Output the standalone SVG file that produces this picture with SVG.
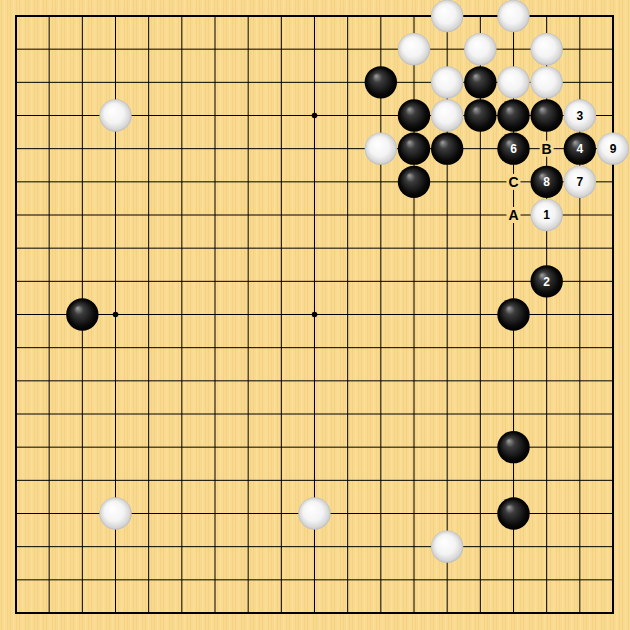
<svg xmlns="http://www.w3.org/2000/svg" width="630" height="630" viewBox="0 0 630 630">
<defs>
<pattern id="wood" x="0" y="0" width="9" height="630" patternUnits="userSpaceOnUse">
<rect width="9" height="630" fill="#F8D98E"/>
<rect x="1" width="1" height="630" fill="#F2CD7C" opacity="0.6"/>
<rect x="4" width="1.5" height="630" fill="#FBE2A2" opacity="0.6"/>
<rect x="7" width="1" height="630" fill="#F1CA77" opacity="0.4"/>
</pattern>
<radialGradient id="gb" cx="0.5" cy="0.5" r="0.5" fx="0.35" fy="0.3">
<stop offset="0" stop-color="#a0a0a0"/>
<stop offset="0.3" stop-color="#3c3c3c"/>
<stop offset="0.8" stop-color="#0a0a0a"/>
<stop offset="1" stop-color="#000"/>
</radialGradient>
<radialGradient id="gw" cx="0.5" cy="0.5" r="0.5" fx="0.38" fy="0.33">
<stop offset="0" stop-color="#ffffff"/>
<stop offset="0.6" stop-color="#f4f4f4"/>
<stop offset="0.9" stop-color="#d6d6d6"/>
<stop offset="1" stop-color="#bdbdbd"/>
</radialGradient>
<style>
.b{fill:url(#gb)}
.w{fill:url(#gw)}
.nw{font-family:"Liberation Sans",Arial,sans-serif;font-size:12px;font-weight:bold;fill:#fff;text-anchor:middle}
.nb{font-family:"Liberation Sans",Arial,sans-serif;font-size:12px;font-weight:bold;fill:#000;text-anchor:middle}
.lt{font-family:"Liberation Sans",Arial,sans-serif;font-size:14px;font-weight:bold;fill:#000;text-anchor:middle}
.lbg{fill:#F8D98E}
</style>
</defs>
<rect width="630" height="630" fill="url(#wood)"/>
<g id="grid" stroke="#000" fill="none">
<path stroke-width="1" d="M16 49.17H613M16 82.33H613M16 115.5H613M16 148.67H613M16 181.83H613M16 215H613M16 248.17H613M16 281.33H613M16 314.5H613M16 347.67H613M16 380.83H613M16 414H613M16 447.17H613M16 480.33H613M16 513.5H613M16 546.67H613M16 579.83H613
M49.17 16V613M82.33 16V613M115.5 16V613M148.67 16V613M181.83 16V613M215 16V613M248.17 16V613M281.33 16V613M314.5 16V613M347.67 16V613M380.83 16V613M414 16V613M447.17 16V613M480.33 16V613M513.5 16V613M546.67 16V613M579.83 16V613"/>
<rect x="16" y="16" width="597" height="597" stroke-width="2"/>
</g>
<g id="stars" fill="#000">
<circle cx="115.5" cy="115.5" r="2.8"/><circle cx="314.5" cy="115.5" r="2.8"/><circle cx="513.5" cy="115.5" r="2.8"/>
<circle cx="115.5" cy="314.5" r="2.8"/><circle cx="314.5" cy="314.5" r="2.8"/><circle cx="513.5" cy="314.5" r="2.8"/>
<circle cx="115.5" cy="513.5" r="2.8"/><circle cx="314.5" cy="513.5" r="2.8"/><circle cx="513.5" cy="513.5" r="2.8"/>
</g>
<g id="white-stones">
<circle class="w" cx="447.17" cy="16" r="16.2"/>
<circle class="w" cx="513.5" cy="16" r="16.2"/>
<circle class="w" cx="414" cy="49.17" r="16.2"/>
<circle class="w" cx="480.33" cy="49.17" r="16.2"/>
<circle class="w" cx="546.67" cy="49.17" r="16.2"/>
<circle class="w" cx="447.17" cy="82.33" r="16.2"/>
<circle class="w" cx="513.5" cy="82.33" r="16.2"/>
<circle class="w" cx="546.67" cy="82.33" r="16.2"/>
<circle class="w" cx="447.17" cy="115.5" r="16.2"/>
<circle class="w" cx="380.83" cy="148.67" r="16.2"/>
<circle class="w" cx="115.5" cy="115.5" r="16.2"/>
<circle class="w" cx="115.5" cy="513.5" r="16.2"/>
<circle class="w" cx="314.5" cy="513.5" r="16.2"/>
<circle class="w" cx="447.17" cy="546.67" r="16.2"/>
</g>
<g id="black-stones">
<circle class="b" cx="380.83" cy="82.33" r="16.2"/>
<circle class="b" cx="480.33" cy="82.33" r="16.2"/>
<circle class="b" cx="414" cy="115.5" r="16.2"/>
<circle class="b" cx="480.33" cy="115.5" r="16.2"/>
<circle class="b" cx="513.5" cy="115.5" r="16.2"/>
<circle class="b" cx="546.67" cy="115.5" r="16.2"/>
<circle class="b" cx="414" cy="148.67" r="16.2"/>
<circle class="b" cx="447.17" cy="148.67" r="16.2"/>
<circle class="b" cx="414" cy="181.83" r="16.2"/>
<circle class="b" cx="82.33" cy="314.5" r="16.2"/>
<circle class="b" cx="513.5" cy="314.5" r="16.2"/>
<circle class="b" cx="513.5" cy="447.17" r="16.2"/>
<circle class="b" cx="513.5" cy="513.5" r="16.2"/>
</g>
<g id="move1"><circle class="w" cx="546.67" cy="215" r="16.2"/><text class="nb" x="546.67" y="219.3">1</text></g>
<g id="move2"><circle class="b" cx="546.67" cy="281.33" r="16.2"/><text class="nw" x="546.67" y="285.6">2</text></g>
<g id="move3"><circle class="w" cx="579.83" cy="115.5" r="16.2"/><text class="nb" x="579.83" y="119.8">3</text></g>
<g id="move4"><circle class="b" cx="579.83" cy="148.67" r="16.2"/><text class="nw" x="579.83" y="153">4</text></g>
<g id="move6"><circle class="b" cx="513.5" cy="148.67" r="16.2"/><text class="nw" x="513.5" y="153">6</text></g>
<g id="move7"><circle class="w" cx="579.83" cy="181.83" r="16.2"/><text class="nb" x="579.83" y="186.1">7</text></g>
<g id="move8"><circle class="b" cx="546.67" cy="181.83" r="16.2"/><text class="nw" x="546.67" y="186.1">8</text></g>
<g id="move9"><circle class="w" cx="613" cy="148.67" r="16.2"/><text class="nb" x="613" y="153">9</text></g>
<g id="label-A"><rect class="lbg" x="506.5" y="207" width="14" height="16"/><text class="lt" x="513.5" y="220">A</text></g>
<g id="label-B"><rect class="lbg" x="539.67" y="140.67" width="14" height="16"/><text class="lt" x="546.67" y="153.7">B</text></g>
<g id="label-C"><rect class="lbg" x="506.5" y="173.83" width="14" height="16"/><text class="lt" x="513.5" y="186.9">C</text></g>
</svg>
